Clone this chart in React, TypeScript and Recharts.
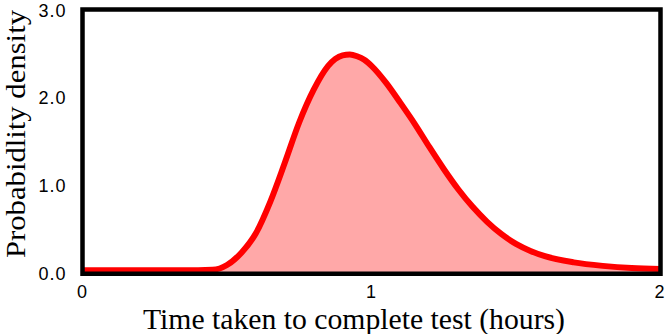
import { AreaChart, Area, XAxis, YAxis, ReferenceArea, Label } from 'recharts'

// time taken (hours) and the density
const hours = [0, 0.1, 0.2, 0.3, 0.4, 0.45, 0.5, 0.55, 0.6, 0.65, 0.7, 0.75, 0.8, 0.85, 0.875, 0.9, 0.925, 0.95, 0.975, 1.0, 1.05, 1.1, 1.15, 1.2, 1.25, 1.3, 1.35, 1.4, 1.45, 1.5, 1.55, 1.6, 1.7, 1.8, 1.9, 2.0]
const density = [0.04, 0.04, 0.04, 0.04, 0.04, 0.045, 0.1, 0.24, 0.46, 0.82, 1.26, 1.72, 2.09, 2.36, 2.44, 2.48, 2.49, 2.47, 2.43, 2.36, 2.17, 1.94, 1.7, 1.44, 1.19, 0.96, 0.76, 0.59, 0.45, 0.34, 0.26, 0.2, 0.13, 0.09, 0.065, 0.055]

const xTicks = [0, 1, 2]
const yTicks = [0, 1, 2, 3]

const xTitle = 'Time taken to complete test (hours)'
const yTitle = 'Probabidlity density'

const data = hours.map((h, i) => ({ hours: h, density: density[i] }))

const tickStyle = { fill: '#000', fontSize: 18, fontFamily: '"Liberation Sans", Arial, sans-serif', letterSpacing: 1 }
const titleFont = '"Liberation Serif", "Times New Roman", serif'

export default function App() {
  return (
    <div style={{ position: 'absolute', left: 0, top: 0, width: 665, height: 334, background: '#fff' }}>
      <AreaChart
        width={665}
        height={334}
        data={data}
        margin={{ top: 9.5, right: 4.5, bottom: 0, left: 0 }}
      >
        <XAxis
          dataKey="hours"
          type="number"
          domain={[0, 2]}
          ticks={xTicks}
          height={60.2}
          axisLine={false}
          tickLine={false}
          tickSize={0}
          tickMargin={11}
          tick={tickStyle}
        >
          <Label
            content={() => (
              <text x={354} y={329} textAnchor="middle" fontSize={30} fontFamily={titleFont} fill="#000"
                textLength={422} lengthAdjust="spacingAndGlyphs">
                {xTitle}
              </text>
            )}
          />
        </XAxis>
        <YAxis
          type="number"
          domain={[0, 3]}
          ticks={yTicks}
          width={82.5}
          axisLine={false}
          tickLine={false}
          tickSize={0}
          tickMargin={16}
          tick={tickStyle}
          tickFormatter={(v: number) => v.toFixed(1)}
        >
          <Label
            content={() => (
              <text
                x={25}
                y={134}
                textAnchor="middle"
                fontSize={27}
                fontFamily={titleFont}
                fill="#000"
                textLength={248}
                lengthAdjust="spacingAndGlyphs"
                transform="rotate(-90 25 134)"
              >
                {yTitle}
              </text>
            )}
          />
        </YAxis>
        <Area
          type="monotone"
          dataKey="density"
          stroke="#ff0000"
          strokeWidth={6}
          fill="#ffa8a8"
          fillOpacity={1}
          isAnimationActive={false}
          dot={false}
          activeDot={false}
        />
        <ReferenceArea x1={0} x2={2} y1={0} y2={3} fill="none" stroke="#000" strokeWidth={4.5} ifOverflow="visible" />
      </AreaChart>
    </div>
  )
}
